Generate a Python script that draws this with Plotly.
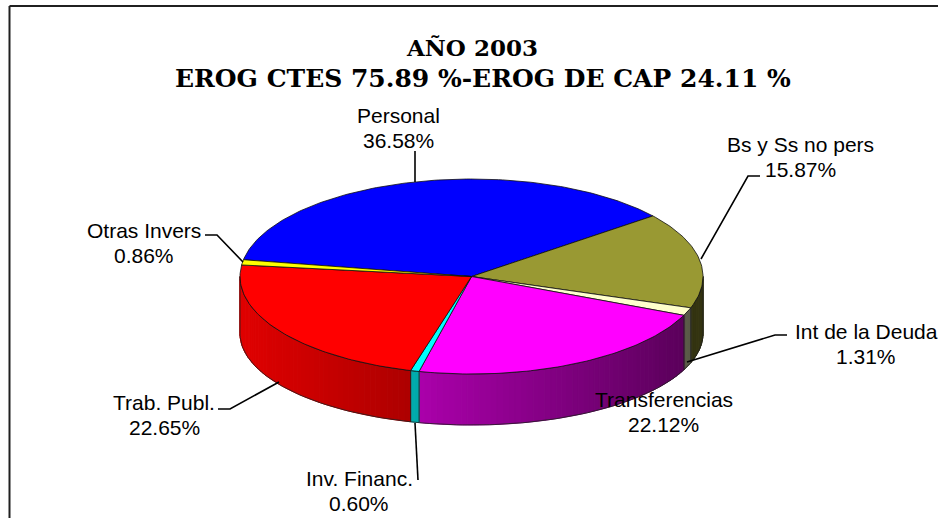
import numpy as np
import plotly.graph_objects as go

labels = ["Personal", "Bs y Ss no pers", "Int de la Deuda", "Transferencias",
          "Inv. Financ.", "Trab. Publ.", "Otras Invers"]
values = [36.58, 15.87, 1.31, 22.12, 0.60, 22.65, 0.86]
colors = ["#0000FF", "#999933", "#FFFFCC", "#FF00FF", "#00FFFF", "#FF0000", "#FFFF00"]
title_lines = ["AÑO 2003", "EROG CTES 75.89 %-EROG DE CAP 24.11 %"]

# pie geometry (pixels of the 938x518 page)
CX, CY, A, B = 471.5, 276.5, 231.5, 97.5
DEPTH, B2 = 57, 91.5
START = 170.1

label_pos = {
    "Personal": (398, 115), "Bs y Ss no pers": (800.5, 144), "Int de la Deuda": (866, 331),
    "Transferencias": (663.5, 399), "Inv. Financ.": (359, 478), "Trab. Publ.": (164, 402),
    "Otras Invers": (144, 230),
}
leaders = [
    ([415, 415], [151, 182]),
    ([701, 748, 760], [259, 176, 176]),
    ([687, 775, 787], [362, 335, 335]),
    ([415, 418], [423, 480]),
    ([279, 230, 218], [382, 409, 409]),
    ([243, 217, 205], [262, 235, 235]),
]
title_style = [(472, 47, 23), (483, 78, 25)]

total = sum(values)
fracs = np.cumsum([0] + values) / total
edges = START - 360 * fracs


def top_xy(t):
    r = np.radians(t)
    return CX + A * np.cos(r), CY - B * np.sin(r)


def bot_xy(t):
    r = np.radians(t)
    return CX + A * np.cos(r), CY + DEPTH - B2 * np.sin(r)


def shade(hex_color, x):
    f = 0.88 - (x - 240) * 0.00118
    rgb = [int(hex_color[i:i + 2], 16) for i in (1, 3, 5)]
    return "rgb(%d,%d,%d)" % tuple(round(c * f) for c in rgb)


fig = go.Figure()


def poly(xs, ys, fill, line=None, width=1):
    fig.add_trace(go.Scatter(x=list(xs), y=list(ys), mode="lines", fill="toself",
                             fillcolor=fill, line=dict(color=line or fill, width=width),
                             hoverinfo="skip", showlegend=False))


# side wall: strips along the front half
for i, col in enumerate(colors):
    hi, lo = edges[i], edges[i + 1]
    for lo_w, hi_w in [(lo, hi), (lo + 360, hi + 360)]:
        a, b = max(lo_w, -180), min(hi_w, 0)
        if a >= b:
            continue
        n = max(2, int((b - a) / 1.5))
        ts = np.linspace(a, b, n + 1)
        for t0, t1 in zip(ts[:-1], ts[1:]):
            x0, y0 = top_xy(t0)
            x1, y1 = top_xy(t1)
            x2, y2 = bot_xy(t1)
            x3, y3 = bot_xy(t0)
            poly([x0, x1, x2, x3, x0], [y0, y1, y2, y3, y0], shade(col, (x0 + x1) / 2))
        # outline of this wall piece
        tt = np.linspace(a, b, 60)
        xt, yt = top_xy(tt)
        xb, yb = bot_xy(tt)
        fig.add_trace(go.Scatter(
            x=list(xt) + list(xb[::-1]) + [xt[0]], y=list(yt) + list(yb[::-1]) + [yt[0]],
            mode="lines", line=dict(color="#202020", width=0.8),
            hoverinfo="skip", showlegend=False))

# top faces
for i, col in enumerate(colors):
    ts = np.linspace(edges[i], edges[i + 1], max(3, int(abs(edges[i + 1] - edges[i])) + 2))
    xs, ys = top_xy(ts)
    poly([CX] + list(xs) + [CX], [CY] + list(ys) + [CY], col, "#101010", 0.8)

# leader lines
for lx, ly in leaders:
    fig.add_trace(go.Scatter(x=lx, y=ly, mode="lines", line=dict(color="black", width=1.6),
                             hoverinfo="skip", showlegend=False))

anns = []
for name, v in zip(labels, values):
    x, y = label_pos[name]
    for txt, yy in ((name, y), (f"{v:.2f}%", y + 25)):
        anns.append(dict(x=x, y=yy, text=txt, showarrow=False, xanchor="center", yanchor="middle",
                         font=dict(family="Liberation Sans, Arial, sans-serif", size=21, color="black")))
for txt, (x, yy, size) in zip(title_lines, title_style):
    anns.append(dict(x=x, y=yy, text=f"<b>{txt}</b>", showarrow=False,
                     xanchor="center", yanchor="middle",
                     font=dict(family="DejaVu Serif, serif", size=size, color="black")))

fig.update_layout(
    width=938, height=518, margin=dict(l=0, r=0, t=0, b=0),
    paper_bgcolor="white", plot_bgcolor="white", showlegend=False,
    xaxis=dict(range=[0, 938], visible=False, fixedrange=True),
    yaxis=dict(range=[518, 0], visible=False, fixedrange=True),
    annotations=anns,
    shapes=[
        dict(type="line", x0=9.5, x1=938, y0=6, y1=6, line=dict(color="#202020", width=2)),
        dict(type="line", x0=9.5, x1=9.5, y0=6, y1=518, line=dict(color="#202020", width=2)),
    ],
)
fig.write_html("out.html", post_script="document.body.style.margin='0';", config=dict(displayModeBar=False))
